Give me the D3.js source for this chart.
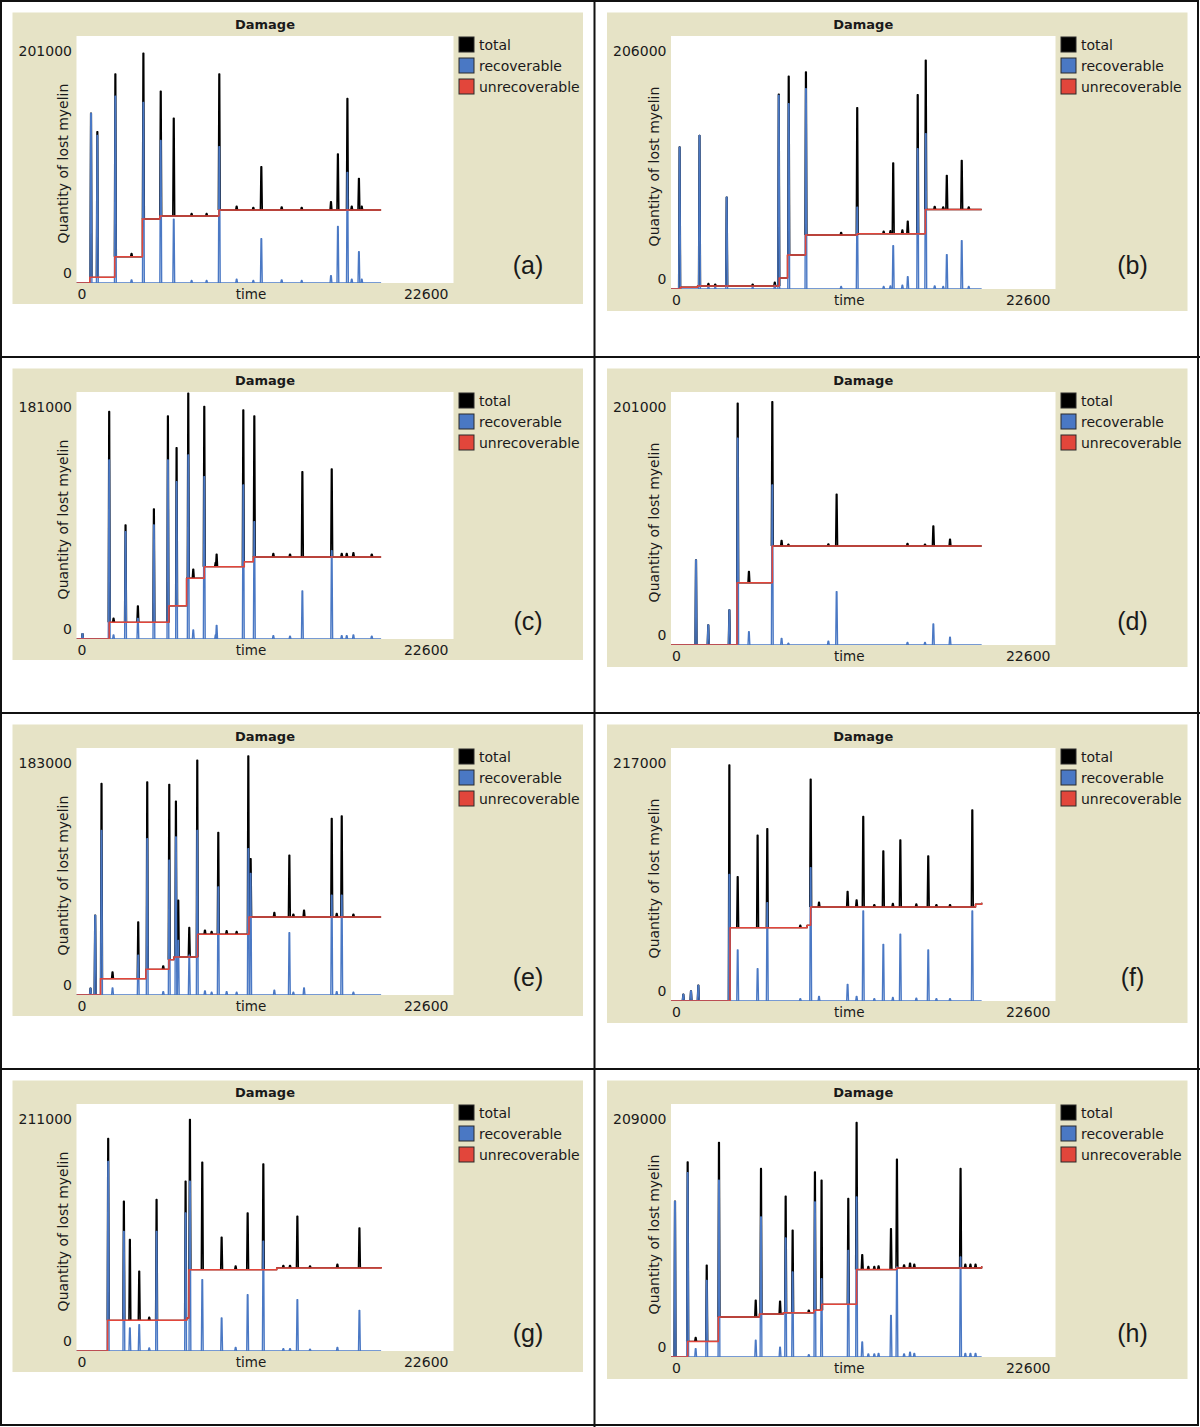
<!DOCTYPE html>
<html lang="en">
<head>
<meta charset="UTF-8">
<title>Damage</title>
<script src="https://cdn.jsdelivr.net/npm/d3@7"></script>
<style>
  body { margin: 0; background: #fff; }
  text { font-family: "DejaVu Sans", sans-serif; fill: #1a1a1a; }
</style>
</head>
<body>
<script>
// shared axis values
var xMax = 22600;
var runEnd = 18260;
var panelLabels = ["(a)", "(b)", "(c)", "(d)", "(e)", "(f)", "(g)", "(h)"];
var yMaxValues = [201000, 206000, 181000, 201000, 183000, 217000, 211000, 209000];
var seriesNames = ["total", "recoverable", "unrecoverable"];

// unrecoverable level: [time, value] where it changes
var stepsA = [[0,0],[800,4600],[2290,21400],[3950,52100],[5000,54500],[8540,59400],[18260,59400]];
var stepsB = [[0,0],[550,1400],[1560,2400],[6360,9000],[6850,27700],[7910,44000],[10950,44900],[14950,64700],[18260,64700]];
var stepsC = [[0,0],[1960,12200],[5540,24400],[6600,44500],[7660,53000],[10060,56700],[10600,60100],[18260,60100]];
var stepsD = [[0,0],[3880,49500],[5955,78600],[18260,78600]];
var stepsE = [[0,0],[1440,12100],[4160,19000],[5540,26200],[5840,28200],[7260,45000],[10340,57800],[18260,57800]];
var stepsF = [[0,0],[3470,62900],[8000,64900],[8210,80600],[17900,83000],[18260,84300]];
var stepsG = [[0,0],[1860,26200],[6600,28200],[6740,69500],[12000,71000],[18260,71800]];
var stepsH = [[0,0],[980,12900],[2780,33000],[5200,35500],[6600,36600],[8400,38600],[8860,43500],[10910,72200],[13260,73500],[18260,74900]];

// peaks: [time, recoverable peak, total peak]
var spikesA = [[870,138000,138000],[1250,120000,123000],[2330,152000,170000],[4010,147000,187000],[5050,116000,156000],[5830,52000,134000],[8560,111000,170000],[11080,36000,94600],[15255,6000,66000],[15670,46000,105000],[16240,90000,150000],[16930,25500,85000]];
var spikesB = [[506,115500,115500],[1676,125000,125000],[3274,74700,74700],[6334,157600,158500],[6919,150800,173100],[7931,163100,176700],[10946,66600,147600],[13061,35300,102500],[13916,10000,55200],[14501,114200,158200],[14974,126400,186200],[16211,28000,92400],[17089,39400,104600]];
var spikesC = [[1960,131200,166600],[2940,78700,83500],[3680,15100,24200],[4640,83500,95300],[5480,131200,163400],[6000,115300,140200],[6700,134900,180000],[7660,119000,170300],[8400,10000,62100],[10000,112900,167800],[10660,86000,163400],[13540,35200,122600],[15300,64700,124600]];
var spikesD = [[1470,67500,67500],[2190,15900,15900],[3430,27800,27800],[3920,164200,192000],[4580,10600,58300],[5955,127100,193300],[6500,5300,82900],[9250,3000,80200],[9735,42400,119700],[14930,2000,80000],[15420,16700,94500],[16400,6100,83900]];
var spikesE = [[840,5000,5000],[1120,59000,59000],[1500,122000,156600],[2160,5200,17000],[3700,29400,54100],[4240,115800,157800],[5560,99800,155900],[5960,117100,143500],[6100,40500,70100],[6760,29400,49900],[7240,122000,173900],[8500,80000,120300],[10300,108400,177100],[10440,90000,101000],[11860,3500,61000],[12760,46200,103500],[13640,5200,62700],[15300,73900,130700],[15900,73900,132600]];
var spikesF = [[725,5700,5700],[1175,8600,8600],[1606,13400,13400],[3430,108600,202400],[3920,43700,106600],[5090,27700,142100],[5660,84300,147800],[8210,114400,190100],[10380,14300,93800],[10910,4000,86600],[11300,77200,158100],[12480,48600,128700],[13480,57200,138100],[15120,43700,124400],[17710,77200,163800]];
var spikesG = [[1900,162000,181400],[2840,102200,127900],[3200,19700,95100],[3760,22500,68100],[4800,102200,129300],[6540,117900,145000],[6800,145000,197700],[7540,61000,161200],[8700,28200,97100],[10260,48100,117900],[11200,93700,159800],[13240,43900,115100],[16960,34700,105100]];
var spikesH = [[235,128600,128600],[980,152300,161100],[1450,6900,16000],[2100,63300,75700],[2820,146000,177100],[4980,13800,46800],[5290,115700,155600],[6410,8000,46000],[6740,98300,132700],[7150,70200,104700],[8460,128100,152800],[8850,64700,146000],[10420,88100,130800],[10910,132200,193600],[11240,12400,84500],[12930,34400,106000],[13280,74400,163300],[17020,82600,155600]];

// small bumps: [time, recoverable amount]
var blipsA = [[3300,2500],[6900,2000],[7800,2000],[9600,3000],[10600,2000],[12300,2500],[13500,2000],[16500,3000],[17100,3000]];
var blipsB = [[2200,2000],[2600,1500],[4800,1500],[6100,3000],[10000,2000],[12500,2000],[12900,2500],[13600,3000],[15500,2500],[16000,2000],[17500,2000]];
var blipsC = [[360,3900],[2220,3000],[7000,6600],[8340,3000],[11800,2500],[12800,2000],[15900,2500],[16200,2500],[16600,3000],[17700,2000]];
var blipsD = [[6900,1500],[13900,2000]];
var blipsE = [[5200,2500],[7700,3000],[8100,2000],[9000,2500],[9600,2000],[13000,2000],[15600,2500],[16600,2000]];
var blipsF = [[7600,2000],[8700,4000],[11950,2000],[13040,3000],[14420,2500],[15600,2000],[16400,2000]];
var blipsG = [[4360,2500],[9540,3000],[12400,2000],[12800,2000],[14000,1500],[15640,3000]];
var blipsH = [[8100,2000],[11600,2500],[11950,2500],[12200,3000],[13700,2500],[14050,4000],[14300,3000],[17300,3000],[17600,3000],[17900,3000]];

var allSteps = [stepsA, stepsB, stepsC, stepsD, stepsE, stepsF, stepsG, stepsH];
var allSpikes = [spikesA, spikesB, spikesC, spikesD, spikesE, spikesF, spikesG, spikesH];
var allBlips = [blipsA, blipsB, blipsC, blipsD, blipsE, blipsF, blipsG, blipsH];

var colors = {total: "#000000", recoverable: "#4a78c4", unrecoverable: "#e2463b"};
var beige = "#e6e3c6";

var svg = d3.select("body").append("svg")
    .attr("width", 1200)
    .attr("height", 1427);

// two column layouts (right plots are a bit bigger)
var cols = [
    {plot: {l: 76.5, r: 453.5, t: 36, b: 283}, bg: {x: 12.5, y: 12.5, w: 570.5, h: 291.5}},
    {plot: {l: 671, r: 1055.5, t: 36, b: 289}, bg: {x: 607, y: 12.5, w: 580.5, h: 298.5}}
];
var rowStep = 356;

function unrecAt(steps, t) {
    var v = 0;
    steps.forEach(function(s) { if (s[0] <= t) v = s[1]; });
    return v;
}

var stepLine = d3.line().curve(d3.curveStepAfter);
var plain = d3.line();

panelLabels.forEach(function(lab, i) {
    var col = cols[i % 2], row = Math.floor(i / 2);
    var p = col.plot, bg = col.bg;
    var g = svg.append("g").attr("transform", "translate(0," + row * rowStep + ")");

    var x = d3.scaleLinear().domain([0, xMax]).range([p.l, p.r]);
    var y = d3.scaleLinear().domain([0, yMaxValues[i]]).range([p.b, p.t]);

    g.append("rect").attr("x", bg.x).attr("y", bg.y).attr("width", bg.w).attr("height", bg.h)
        .attr("fill", beige);
    g.append("rect").attr("x", p.l).attr("y", p.t).attr("width", p.r - p.l).attr("height", p.b - p.t)
        .attr("fill", "#fff");

    g.append("clipPath").attr("id", "clip" + i)
        .append("rect").attr("x", p.l).attr("y", p.t - 2).attr("width", p.r - p.l).attr("height", p.b - p.t + 2);

    var plot = g.append("g").attr("clip-path", "url(#clip" + i + ")")
        .attr("fill", "none").attr("stroke-linejoin", "round");

    var steps = allSteps[i], spikes = allSpikes[i], blips = allBlips[i];
    // thin spike: near-vertical rise and fall
    function spikePath(t, base, peak) {
        var cx = x(t);
        return plain([[cx - 0.9, y(base)], [cx - 0.3, y(peak)], [cx + 0.3, y(peak)], [cx + 0.9, y(base)]]);
    }
    var stepPts = steps.map(function(s) { return [x(s[0]), y(s[1])]; });

    // total
    plot.append("path").attr("d", stepLine(stepPts)).attr("stroke", colors.total).attr("stroke-width", 1.4);
    spikes.forEach(function(s) {
        plot.append("path").attr("d", spikePath(s[0], unrecAt(steps, s[0]), Math.max(s[2], s[1])))
            .attr("stroke", colors.total).attr("stroke-width", 1.6);
    });
    blips.forEach(function(b) {
        var base = unrecAt(steps, b[0]);
        plot.append("path").attr("d", spikePath(b[0], base, base + b[1]))
            .attr("stroke", colors.total).attr("stroke-width", 1.6);
    });

    // recoverable
    plot.append("path").attr("d", plain([[x(0), y(0)], [x(runEnd), y(0)]]))
        .attr("stroke", colors.recoverable).attr("stroke-width", 1.4);
    spikes.forEach(function(s) {
        plot.append("path").attr("d", spikePath(s[0], 0, s[1]))
            .attr("stroke", colors.recoverable).attr("stroke-width", 1.4);
    });
    blips.forEach(function(b) {
        plot.append("path").attr("d", spikePath(b[0], 0, b[1]))
            .attr("stroke", colors.recoverable).attr("stroke-width", 1.4);
    });

    // unrecoverable
    plot.append("path").attr("d", stepLine(stepPts)).attr("stroke", colors.unrecoverable).attr("stroke-width", 1.5);

    // texts
    g.append("text").attr("x", (p.l + p.r) / 2).attr("y", 24).attr("text-anchor", "middle")
        .attr("dominant-baseline", "central").attr("font-size", 13).attr("font-weight", "bold").text("Damage");
    g.append("text").attr("x", p.l - 4.5).attr("y", 51).attr("text-anchor", "end")
        .attr("dominant-baseline", "central").attr("font-size", 14).text(yMaxValues[i]);
    g.append("text").attr("x", p.l - 4.5).attr("y", p.b - 10.5).attr("text-anchor", "end")
        .attr("dominant-baseline", "central").attr("font-size", 14).text("0");
    g.append("text").attr("x", p.l + 1).attr("y", p.b + 11).attr("dominant-baseline", "central")
        .attr("font-size", 14).text("0");
    g.append("text").attr("x", p.r - 5).attr("y", p.b + 11).attr("text-anchor", "end")
        .attr("dominant-baseline", "central").attr("font-size", 14).text(xMax);
    g.append("text").attr("x", (p.l + p.r) / 2 - 14).attr("y", p.b + 11).attr("text-anchor", "middle")
        .attr("dominant-baseline", "central").attr("font-size", 13.5).text("time");
    var ly = (p.t + p.b) / 2 + 4, lx = p.l - (i % 2 ? 17 : 14);
    g.append("text").attr("transform", "translate(" + lx + "," + ly + ") rotate(-90)")
        .attr("text-anchor", "middle").attr("dominant-baseline", "central").attr("font-size", 14)
        .text("Quantity of lost myelin");

    // legend
    seriesNames.forEach(function(name, k) {
        g.append("rect").attr("x", p.r + 5.5).attr("y", p.t + 1 + k * 21).attr("width", 15).attr("height", 15)
            .attr("fill", colors[name]).attr("stroke", "#2a2a2a").attr("stroke-width", 1);
        g.append("text").attr("x", p.r + 25.5).attr("y", p.t + 9 + k * 21)
            .attr("dominant-baseline", "central").attr("font-size", 14).text(name);
    });

    // panel letter
    g.append("text").attr("x", bg.x + bg.w - 55).attr("y", 265).attr("text-anchor", "middle")
        .attr("dominant-baseline", "central").attr("font-size", 25)
        .style("font-family", "'Liberation Sans', Arial, sans-serif").text(lab);
});

// grid frame
var frame = svg.append("g").attr("stroke", "#111").attr("stroke-width", 2).attr("fill", "none");
frame.append("rect").attr("x", 1).attr("y", 1).attr("width", 1197).attr("height", 1424);
frame.append("line").attr("x1", 594.5).attr("x2", 594.5).attr("y1", 0).attr("y2", 1427);
[357, 713, 1069].forEach(function(yy) {
    frame.append("line").attr("x1", 0).attr("x2", 1200).attr("y1", yy).attr("y2", yy);
});
</script>
</body>
</html>
